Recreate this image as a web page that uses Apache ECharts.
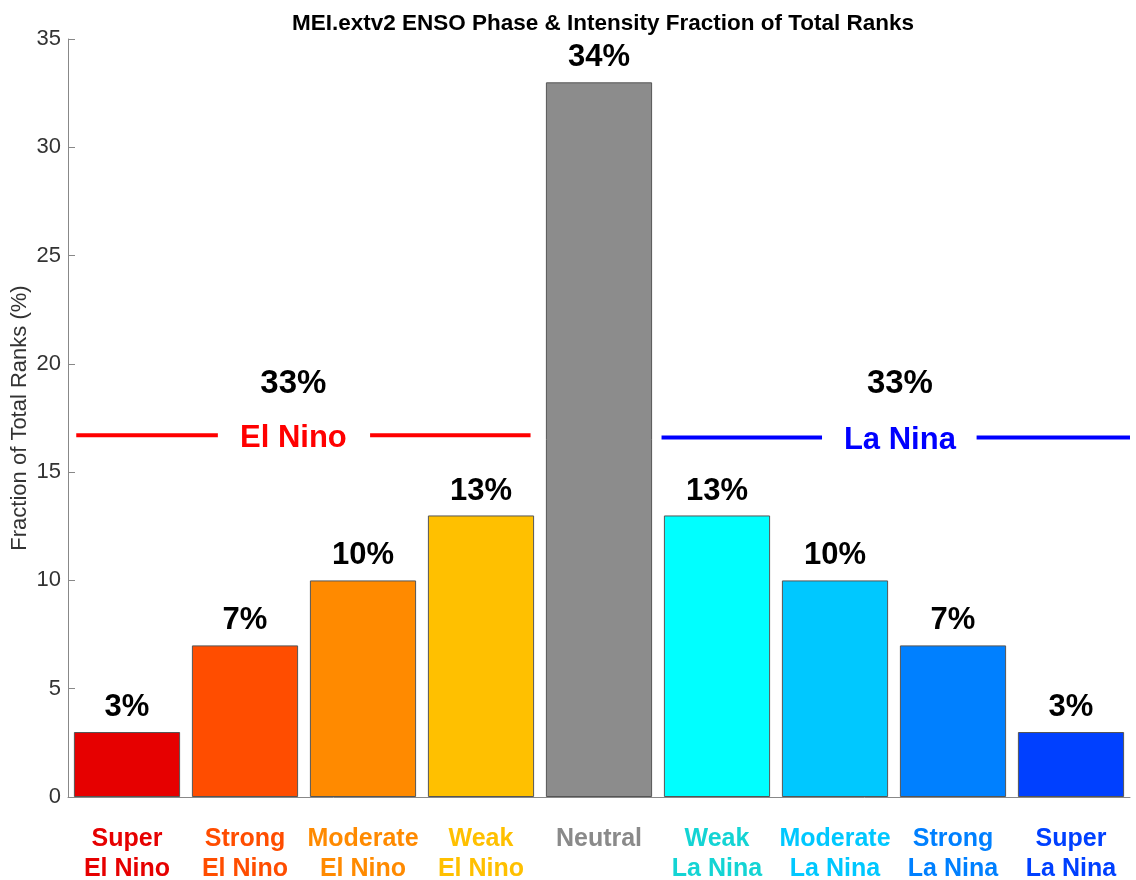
<!DOCTYPE html>
<html lang="en">
<head>
    <meta charset="UTF-8">
    <title>MEI.extv2 ENSO Phase</title>
    <script src="https://cdn.jsdelivr.net/npm/echarts@6/dist/echarts.min.js"></script>
    <style>
        html, body { margin: 0; padding: 0; background: #fff; }
        #main { width: 1136px; height: 880px; }
    </style>
</head>
<body>
<div id="main"></div>
<script>
    // categories and values
    let categories = ['Super\nEl Nino', 'Strong\nEl Nino', 'Moderate\nEl Nino', 'Weak\nEl Nino', 'Neutral',
        'Weak\nLa Nina', 'Moderate\nLa Nina', 'Strong\nLa Nina', 'Super\nLa Nina'];
    let values = [3, 7, 10, 13, 33, 13, 10, 7, 3];
    let pctLabels = ['3%', '7%', '10%', '13%', '34%', '13%', '10%', '7%', '3%'];
    let barColors = ['#e60000', '#ff4d00', '#ff8a00', '#ffc000', '#8c8c8c', '#00ffff', '#00c8ff', '#0080ff', '#0040ff'];
    let labelColors = ['#e60000', '#ff4d00', '#ff8a00', '#ffc000', '#8a8a8a', '#14d4d4', '#00c8ff', '#0080ff', '#0040ff'];

    // phase groups
    let groupNames = ['El Nino', 'La Nina'];
    let groupTotals = ['33%', '33%'];
    let groupLevels = [16.7, 16.6];
    let groupTotalLevel = 19.2;
    let groupColors = ['#ff0000', '#0000ff'];

    // horizontal extent of the group lines, in category units (centre of first bar = 0)
    let groupSpans = [[-0.43, 0.77, 1.41, 2.06, 3.42], [4.53, 5.89, 6.55, 7.2, 8.5]];

    let myChart = echarts.init(document.getElementById('main'));
    let fontFamily = '"Liberation Sans", Arial, Helvetica, sans-serif';

    let seriesConfig = [{
        type: 'bar',
        xAxisIndex: 0,
        yAxisIndex: 0,
        barCategoryGap: '10%',
        data: values.map(function(v, i) {
            return {
                value: v,
                itemStyle: { color: barColors[i] }
            };
        }),
        itemStyle: { borderColor: '#555', borderWidth: 1 },
        label: {
            show: true,
            position: 'top',
            distance: 9,
            color: '#000',
            fontSize: 31,
            fontWeight: 'bold',
            fontFamily: fontFamily,
            formatter: function(p) { return pctLabels[p.dataIndex]; }
        },
        silent: true,
        animation: false
    }];

    groupNames.forEach(function(name, gi) {
        let s = groupSpans[gi], y = groupLevels[gi];
        seriesConfig.push({
            type: 'line',
            xAxisIndex: 1,
            yAxisIndex: 0,
            data: [[s[0], y], [s[1], y], [s[2], '-'], [s[3], y], [s[4], y]],
            symbol: 'none',
            connectNulls: false,
            lineStyle: { color: groupColors[gi], width: 4 },
            silent: true,
            animation: false
        });
        seriesConfig.push({
            type: 'scatter',
            xAxisIndex: 1,
            yAxisIndex: 0,
            symbolSize: 0,
            itemStyle: { opacity: 1 },
            data: [
                { value: [s[2], y], label: { formatter: name, color: groupColors[gi], fontSize: 31 } },
                { value: [s[2], groupTotalLevel], label: { formatter: groupTotals[gi], color: '#000', fontSize: 33 } }
            ],
            label: {
                show: true,
                position: 'inside',
                offset: [0, 3],
                fontWeight: 'bold',
                fontFamily: fontFamily
            },
            silent: true,
            animation: false
        });
    });

    myChart.setOption({
        title: {
            text: 'MEI.extv2 ENSO Phase & Intensity Fraction of Total Ranks',
            left: 598,
            textAlign: 'center',
            top: 7,
            textStyle: { fontSize: 22.5, fontWeight: 'bold', color: '#000', fontFamily: fontFamily }
        },
        grid: { left: 68, right: 6, top: 39, bottom: 83, containLabel: false, outerBoundsMode: 'none' },
        xAxis: [{
            type: 'category',
            data: categories,
            axisLine: { lineStyle: { color: '#888' } },
            axisTick: { show: false },
            axisLabel: {
                margin: 27,
                fontSize: 25,
                fontWeight: 'bold',
                lineHeight: 30,
                fontFamily: fontFamily,
                interval: 0,
                color: function(v, i) { return labelColors[i]; }
            }
        }, {
            type: 'value',
            min: -0.5,
            max: 8.5,
            show: false
        }],
        yAxis: {
            type: 'value',
            min: 0,
            max: 35,
            interval: 5,
            name: 'Fraction of Total Ranks (%)',
            nameLocation: 'middle',
            nameGap: 37,
            nameMoveOverlap: false,
            nameTextStyle: { fontSize: 22, color: '#333', fontFamily: fontFamily },
            axisLine: { show: true, onZero: false, lineStyle: { color: '#888' } },
            axisTick: { show: true, inside: true, length: 7, lineStyle: { color: '#888' } },
            axisLabel: { fontSize: 22, color: '#333', margin: 7, fontFamily: fontFamily },
            splitLine: { show: false }
        },
        series: seriesConfig
    });
</script>
</body>
</html>
